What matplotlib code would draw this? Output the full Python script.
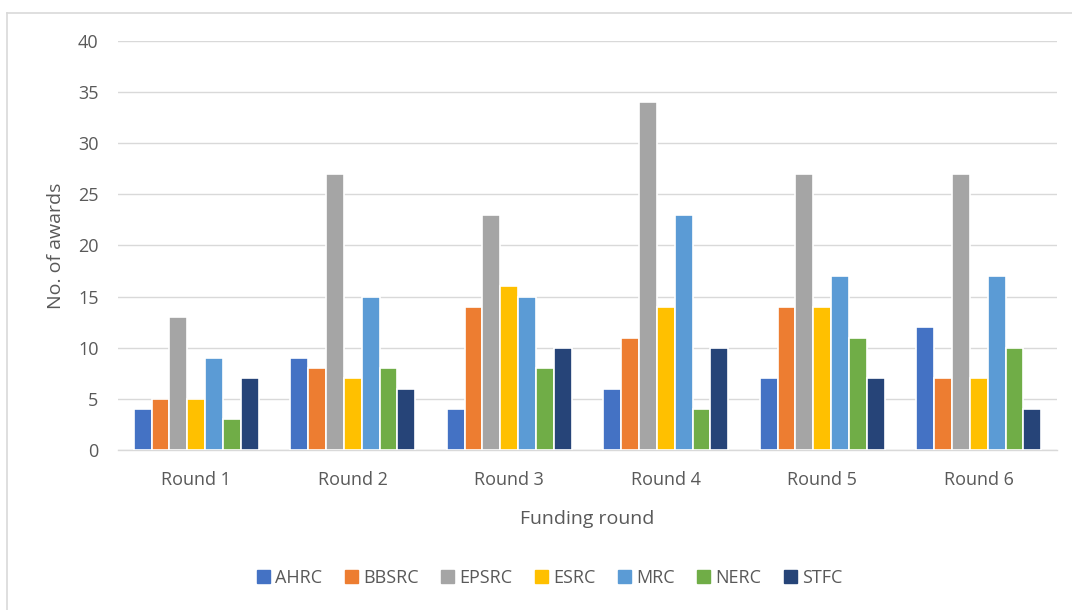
import matplotlib
matplotlib.use("Agg")
import matplotlib.pyplot as plt
from matplotlib.lines import Line2D
import numpy as np

rounds = ["Round 1", "Round 2", "Round 3", "Round 4", "Round 5", "Round 6"]
councils = ["AHRC", "BBSRC", "EPSRC", "ESRC", "MRC", "NERC", "STFC"]
ahrc = [4, 9, 4, 6, 7, 12]
bbsrc = [5, 8, 14, 11, 14, 7]
epsrc = [13, 27, 23, 34, 27, 27]
esrc = [5, 7, 16, 14, 14, 7]
mrc = [9, 15, 15, 23, 17, 17]
nerc = [3, 8, 8, 4, 11, 10]
stfc = [7, 6, 10, 10, 7, 4]
series = [ahrc, bbsrc, epsrc, esrc, mrc, nerc, stfc]
colors = ["#4472C4", "#ED7D31", "#A5A5A5", "#FFC000", "#5B9BD5", "#70AD47", "#264478"]

plt.rcParams["font.family"] = ["Open Sans", "DejaVu Sans"]
text_color = "#595959"

fig = plt.figure(figsize=(10.72, 6.10), dpi=100)
ax = fig.add_axes([118 / 1072, 1 - 450 / 610, (1057 - 118) / 1072, (450 - 41) / 610])

x = np.arange(len(rounds))
group = 0.8
w = group / len(councils)
for i, (vals, c, name) in enumerate(zip(series, colors, councils)):
    ax.bar(x - group / 2 + w * (i + 0.5), vals, width=w, color=c,
           edgecolor="white", linewidth=1.2, label=name, zorder=3)

ax.set_xlim(-0.5, len(rounds) - 0.5)
ax.set_ylim(0, 40)
ax.set_yticks(range(0, 41, 5))
ax.set_xticks(x)
ax.set_xticklabels(rounds)
ax.yaxis.grid(True, color="#D9D9D9", linewidth=1.0, zorder=0)
ax.set_axisbelow(True)
for s in ["top", "right", "left"]:
    ax.spines[s].set_visible(False)
ax.spines["bottom"].set_color("#D9D9D9")
ax.spines["bottom"].set_linewidth(1.0)
ax.tick_params(axis="both", length=0, labelsize=13, colors=text_color)
ax.tick_params(axis="y", pad=14)
ax.tick_params(axis="x", pad=15)

ax.set_ylabel("No. of awards", fontsize=14, color=text_color, labelpad=9)
ax.set_xlabel("Funding round", fontsize=14, color=text_color, labelpad=15)

handles = [plt.Rectangle((0, 0), 1, 1, color=c) for c in colors]
fig.legend(handles, councils, loc="center", bbox_to_anchor=(0.513, 1 - 578 / 610),
           ncol=7, frameon=False, fontsize=13, labelcolor=text_color,
           handlelength=0.7, handleheight=0.7, handletextpad=0.3, columnspacing=1.25)

# outer chart frame (top and left edges)
fig.add_artist(Line2D([7 / 1072, 1.0], [1 - 13 / 610, 1 - 13 / 610],
                      transform=fig.transFigure, color="#D9D9D9", linewidth=1.2))
fig.add_artist(Line2D([7 / 1072, 7 / 1072], [0.0, 1 - 13 / 610],
                      transform=fig.transFigure, color="#D9D9D9", linewidth=1.2))

fig.savefig("out.png", dpi=100, facecolor="white")
